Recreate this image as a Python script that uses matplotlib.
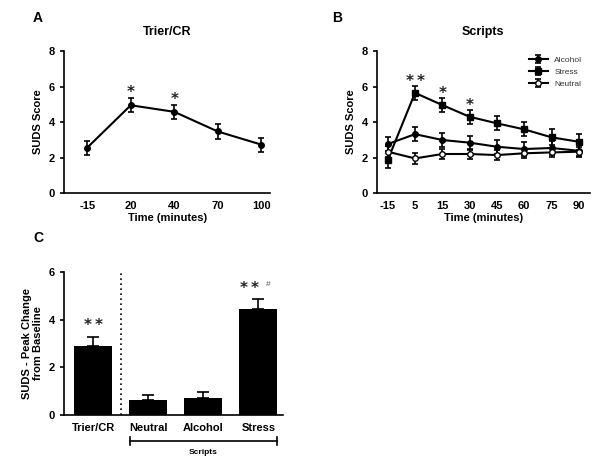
import numpy as np
import matplotlib.pyplot as plt

plt.rcParams['font.family'] = ['Liberation Sans', 'DejaVu Sans']

# panel A: Trier/CR
times_a = ['-15', '20', '40', '70', '100']
trier_mean = [2.56, 4.95, 4.58, 3.47, 2.73]
trier_err = [0.40, 0.40, 0.40, 0.40, 0.40]
trier_stars = ['', '*', '*', '', '']

# panel B: Scripts
times_b = ['-15', '5', '15', '30', '45', '60', '75', '90']
alcohol_mean = [2.76, 3.32, 2.99, 2.84, 2.61, 2.48, 2.54, 2.38]
alcohol_err = [0.40, 0.40, 0.40, 0.40, 0.40, 0.40, 0.40, 0.35]
stress_mean = [1.86, 5.65, 4.96, 4.30, 3.93, 3.59, 3.14, 2.89]
stress_err = [0.45, 0.40, 0.40, 0.40, 0.40, 0.40, 0.45, 0.45]
neutral_mean = [2.33, 1.95, 2.20, 2.20, 2.14, 2.24, 2.29, 2.33]
neutral_err = [0.30, 0.30, 0.30, 0.30, 0.30, 0.25, 0.25, 0.25]
stress_stars = ['', '*\u2009*', '*', '*', '', '', '', '']

# panel C: peak change
groups_c = ['Trier/CR', 'Neutral', 'Alcohol', 'Stress']
peak_mean = [2.89, 0.63, 0.70, 4.46]
peak_err = [0.40, 0.22, 0.27, 0.40]
peak_stars = ['*\u2009*', '', '', '*\u2009*']

fig = plt.figure(figsize=(6, 4.68), dpi=100)

def style(ax):
    for s in ['top', 'right']:
        ax.spines[s].set_visible(False)
    for s in ['left', 'bottom']:
        ax.spines[s].set_linewidth(1.2)
    ax.tick_params(axis='y', length=3, width=1.2, labelsize=8)
    ax.tick_params(axis='x', length=0, labelsize=8, pad=6)
    for lab in ax.get_xticklabels() + ax.get_yticklabels():
        lab.set_fontweight('bold')

star_kw = dict(ha='center', va='center', fontsize=11, family='DejaVu Sans',
               fontweight='bold', color='#222222')

# ---- A
axa = fig.add_axes([0.107, 0.5876, 0.343, 0.303])
xa = np.arange(len(times_a))
axa.errorbar(xa, trier_mean, yerr=trier_err, color='black', marker='o', ms=4,
             lw=1.5, capsize=2.5, elinewidth=1.2, capthick=1.2)
for i, s in enumerate(trier_stars):
    if s:
        axa.text(xa[i], trier_mean[i] + trier_err[i] + 0.3, s, **star_kw)
axa.set_xticks(xa)
axa.set_xticklabels(times_a)
axa.set_xlim(-0.53, 4.2)
axa.set_ylim(0, 8)
axa.set_yticks([0, 2, 4, 6, 8])
axa.set_xlabel('Time (minutes)', fontsize=8, fontweight='bold', labelpad=1)
axa.set_ylabel('SUDS Score', fontsize=8, fontweight='bold')
axa.set_title('Trier/CR', fontsize=9, fontweight='bold', pad=12)
style(axa)
fig.text(0.055, 0.953, 'A', fontsize=10, fontweight='bold')

# ---- B
axb = fig.add_axes([0.628, 0.5876, 0.355, 0.303])
xb = np.arange(len(times_b))
kw = dict(color='black', lw=1.5, capsize=2.5, elinewidth=1.2, capthick=1.2)
axb.errorbar(xb, alcohol_mean, yerr=alcohol_err, marker='o', ms=4, label='Alcohol', **kw)
axb.errorbar(xb, stress_mean, yerr=stress_err, marker='s', ms=4, label='Stress', **kw)
axb.errorbar(xb, neutral_mean, yerr=neutral_err, marker='o', ms=4, mfc='white',
             mec='black', label='Neutral', **kw)
for i, s in enumerate(stress_stars):
    if s:
        axb.text(xb[i], stress_mean[i] + stress_err[i] + 0.25, s, **star_kw)
axb.set_xticks(xb)
axb.set_xticklabels(times_b)
axb.set_xlim(-0.4, 7.4)
axb.set_ylim(0, 8)
axb.set_yticks([0, 2, 4, 6, 8])
axb.set_xlabel('Time (minutes)', fontsize=8, fontweight='bold', labelpad=1)
axb.set_ylabel('SUDS Score', fontsize=8, fontweight='bold')
axb.set_title('Scripts', fontsize=9, fontweight='bold', pad=12)
leg = axb.legend(loc='upper right', bbox_to_anchor=(1.0, 1.02), frameon=False, fontsize=6,
                 handlelength=2.2, labelspacing=0.5)
for t in leg.get_texts():
    t.set_color('#333333')
style(axb)
fig.text(0.553, 0.953, 'B', fontsize=10, fontweight='bold')

# ---- C
axc = fig.add_axes([0.107, 0.113, 0.365, 0.306])
xc = np.arange(len(groups_c))
axc.bar(xc, peak_mean, width=0.69, color='black')
axc.errorbar(xc, peak_mean, yerr=[np.zeros(len(xc)), peak_err], fmt='none', ecolor='black',
             capsize=4, elinewidth=1.2, capthick=1.2)
star_dx = [0, 0, 0, -0.16]
for i, s in enumerate(peak_stars):
    if s:
        axc.text(xc[i] + star_dx[i], peak_mean[i] + peak_err[i] + 0.45, s, **star_kw)
axc.text(xc[3] + 0.14, peak_mean[3] + peak_err[3] + 0.62, '#', ha='left', va='center',
         fontsize=6, color='#555555')
axc.axvline(0.5, ymin=0, ymax=1.01, color='black', ls=(0, (1, 2)), lw=1.2)
axc.set_xticks(xc)
axc.set_xticklabels(groups_c)
axc.set_xlim(-0.53, 3.45)
axc.set_ylim(0, 6)
axc.set_yticks([0, 2, 4, 6])
axc.set_ylabel('SUDS - Peak Change\nfrom Baseline', fontsize=8, fontweight='bold')
style(axc)
# bracket for scripts
trans = axc.get_xaxis_transform()
axc.plot([0.66, 3.34], [-0.18, -0.18], color='black', lw=1.2, transform=trans, clip_on=False)
for xe in [0.66, 3.34]:
    axc.plot([xe, xe], [-0.21, -0.15], color='black', lw=1.2, transform=trans, clip_on=False)
axc.text(2.0, -0.24, 'Scripts', ha='center', va='top', fontsize=6, fontweight='bold', transform=trans)
fig.text(0.055, 0.483, 'C', fontsize=10, fontweight='bold')

fig.savefig('out.png', dpi=100)
